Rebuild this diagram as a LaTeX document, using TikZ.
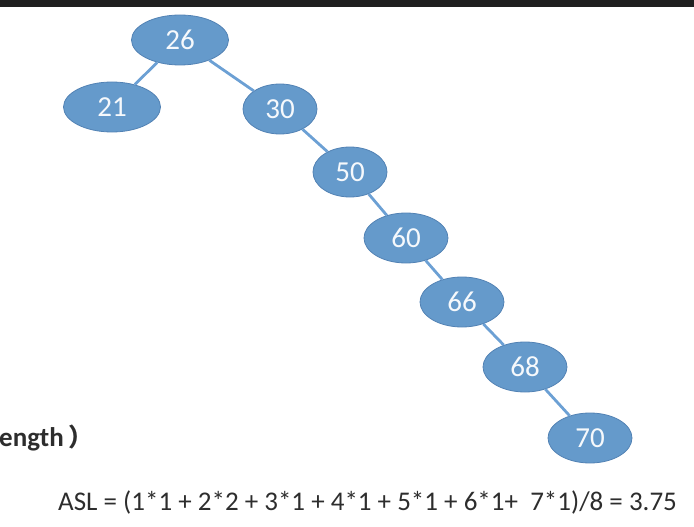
\documentclass[tikz,border=0pt]{standalone}
\usepackage{fontspec}
\setmainfont{Carlito}
\newfontfamily\cjkfont{Noto Sans CJK SC}
\usepackage{xcolor}
\usepackage{tikz}
\usetikzlibrary{positioning, shapes.geometric}
\definecolor{nodeblue}{RGB}{101, 154, 203}
\definecolor{nodeedge}{RGB}{82, 130, 180}
\definecolor{linkblue}{RGB}{108, 160, 212}
\definecolor{textgray}{RGB}{45, 45, 45}
\definecolor{barcolor}{RGB}{31, 31, 31}

\begin{document}
\begin{tikzpicture}[
  x=1pt, y=-1pt,
  treenode/.style={ellipse, draw=nodeedge, fill=nodeblue, line width=0.8pt, text=white!94!nodeblue,
    minimum width=84pt, minimum height=50pt, inner sep=0pt, font=\fontsize{29}{32}\selectfont},
  wide/.style={minimum width=97pt},
  narrow/.style={minimum width=74pt},
  link/.style={draw=linkblue, line width=2.8pt},
  note/.style={text=textgray, font=\fontsize{27}{30}\selectfont, inner sep=0pt}
]
\useasboundingbox (0,0) rectangle (694,527);
\fill[barcolor] (0,0) rectangle (694,7);

% the tree
\node[treenode, wide] (n26) at (180,40) {26};
\node[treenode, wide] (n21) at (112,107) {21};
\node[treenode, narrow] (n30) at (280,109) {30};
\node[treenode, narrow] (n50) at (350,172) {50};
\node[treenode] (n60) at (406,238) {60};
\node[treenode] (n66) at (462,302) {66};
\node[treenode] (n68) at (525,367) {68};
\node[treenode] (n70) at (590,438) {70};

\draw[link] (n26) -- (n21);
\draw[link] (n26) -- (n30);
\draw[link] (n30) -- (n50);
\draw[link] (n50) -- (n60);
\draw[link] (n60) -- (n66);
\draw[link] (n66) -- (n68);
\draw[link] (n68) -- (n70);

% text
\node[note, anchor=base west, font=\fontsize{27}{30}\selectfont\bfseries] (cut) at (-1,446) {ength\,{\cjkfont\fontsize{25}{28}\selectfont ）}};
\node[note, anchor=base west] (asl) at (58,510) {ASL = (1*1 + 2*2 + 3*1 + 4*1 + 5*1 + 6*1+\ \ 7*1)/8 = 3.75};
\end{tikzpicture}
\end{document}
